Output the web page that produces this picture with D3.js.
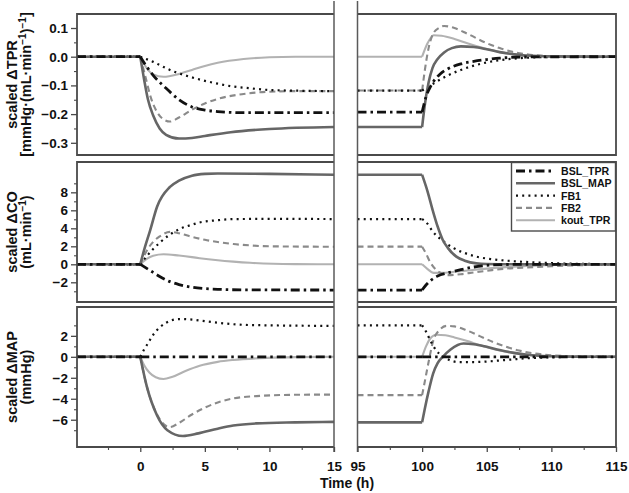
<!DOCTYPE html>
<html><head><meta charset="utf-8">
<script src="https://cdn.jsdelivr.net/npm/d3@7"></script>
<style>
body{margin:0;background:#fff}
svg{display:block}
text{font-family:"Liberation Sans",Arial,Helvetica,sans-serif;font-weight:bold;fill:#111}
</style>
</head><body>
<svg id="chart" width="629" height="493"></svg>
<script>
// ---------------- DATA ----------------
const seriesNames = ["BSL_TPR", "BSL_MAP", "FB1", "FB2", "kout_TPR"];
const xTicksLeft = [0, 5, 10, 15];
const xTicksRight = [95, 100, 105, 110, 115];
const xMinorLeft = [-2.5, 2.5, 7.5, 12.5];
const xMinorRight = [97.5, 102.5, 107.5, 112.5];
const yTicksTPR = [-0.3, -0.2, -0.1, 0.0, 0.1];
const yMinorTPR = [-0.25, -0.15, -0.05, 0.05];
const yTicksCO = [-2, 0, 2, 4, 6, 8];
const yMinorCO = [-3, -1, 1, 3, 5, 7, 9];
const yTicksMAP = [-6, -4, -2, 0, 2];
const yMinorMAP = [-7, -5, -3, -1, 1, 3];

// scaled ΔTPR
const tpr_BSL_TPR = [[-4.9,0],[0,0],[0.5,-0.035],[1,-0.065],[2,-0.11],[3,-0.15],[4,-0.175],[5,-0.186],[6,-0.191],[8,-0.195],[15,-0.195],[95,-0.193],[100,-0.193],[100.3,-0.14],[100.7,-0.1],[101.4,-0.06],[102,-0.042],[103,-0.025],[104,-0.016],[105,-0.01],[106,-0.005],[108,-0.001],[115,0]];
const tpr_BSL_MAP = [[-4.9,0],[0,0],[0.3,-0.08],[0.6,-0.15],[1,-0.205],[1.5,-0.25],[2,-0.272],[3,-0.285],[4,-0.283],[5,-0.276],[7,-0.263],[10,-0.252],[15,-0.245],[95,-0.245],[100,-0.245],[100.2,-0.17],[100.5,-0.09],[100.8,-0.04],[101.2,-0.008],[101.7,0.015],[102.3,0.03],[103,0.036],[104,0.034],[105,0.026],[106,0.016],[107,0.009],[108,0.004],[110,0.001],[115,0]];
const tpr_FB1 = [[-4.9,0],[0,0],[1,-0.018],[2,-0.04],[2.5,-0.05],[3,-0.058],[4,-0.072],[5,-0.084],[6,-0.094],[7.2,-0.104],[8.5,-0.11],[10,-0.116],[15,-0.12],[95,-0.118],[100,-0.118],[101,-0.09],[102,-0.065],[103,-0.046],[104,-0.031],[105,-0.02],[106,-0.012],[107,-0.007],[108,-0.004],[110,-0.001],[115,0]];
const tpr_FB2 = [[-4.9,0],[0,0],[0.4,-0.07],[0.8,-0.14],[1.2,-0.185],[1.7,-0.215],[2.3,-0.226],[3,-0.212],[4,-0.185],[5,-0.163],[6,-0.147],[8,-0.13],[10,-0.122],[12,-0.12],[15,-0.12],[95,-0.118],[100,-0.118],[100.2,-0.05],[100.5,0.03],[100.85,0.08],[101.3,0.1],[101.7,0.107],[102.5,0.1],[103.5,0.08],[105,0.047],[106,0.03],[107,0.017],[108,0.009],[110,0.002],[115,0]];
const tpr_kout_TPR = [[-4.9,0],[0,0],[0.5,-0.04],[1,-0.062],[1.8,-0.07],[3,-0.06],[4,-0.046],[5,-0.032],[6,-0.021],[8,-0.008],[10,-0.002],[12,0],[15,0],[95,0],[100,0],[100.4,0.045],[100.9,0.075],[101.5,0.073],[102.5,0.062],[103.5,0.047],[105,0.027],[106,0.016],[107,0.009],[108,0.004],[110,0.001],[115,0]];

// scaled ΔCO
const co_BSL_TPR = [[-4.9,0],[0,0],[0.5,-0.45],[1,-0.9],[1.5,-1.35],[2.3,-1.93],[3,-2.25],[4,-2.55],[5,-2.7],[6,-2.78],[8,-2.84],[15,-2.86],[95,-2.86],[100,-2.86],[100.3,-2.3],[100.7,-1.75],[101.2,-1.3],[102,-0.95],[103,-0.6],[104,-0.3],[105,-0.12],[106,-0.04],[108,0],[115,0]];
const co_BSL_MAP = [[-4.9,0],[0,0],[0.3,1.6],[0.77,3.8],[1.3,6.4],[2.3,8.6],[3,9.3],[4,9.85],[5,10.05],[6,10.1],[10,10.05],[15,9.95],[95,9.95],[100,9.95],[100.4,8.2],[100.85,5.85],[101.2,4.2],[101.6,2.7],[102,1.8],[102.65,0.85],[103.3,0.4],[104.2,0.1],[105,0.03],[107,0],[115,0]];
const co_FB1 = [[-4.9,0],[0,0],[0.5,0.9],[1,1.7],[1.5,2.4],[2.3,3.3],[3,3.9],[4,4.4],[4.6,4.65],[6,4.9],[7.2,5.02],[10,5.05],[15,5.03],[95,5.03],[100,5.03],[100.3,4.7],[100.85,3.6],[101.6,2.6],[102.5,1.75],[103.3,1.25],[104.2,0.85],[105.5,0.55],[107,0.35],[108.2,0.25],[110,0.13],[112,0.06],[115,0.02]];
const co_FB2 = [[-4.9,0],[0,0],[0.5,1.5],[1,2.5],[1.5,3.1],[2.3,3.6],[3,3.45],[4,3.05],[5,2.72],[6,2.47],[7.2,2.25],[8.5,2.1],[10,2.0],[15,1.95],[95,1.96],[100,1.96],[100.3,1.2],[100.6,0.3],[101,-0.5],[101.5,-1.0],[102,-1.2],[103,-1.1],[104,-0.9],[105.4,-0.65],[106.5,-0.48],[108,-0.35],[109.4,-0.26],[111,-0.15],[113,-0.07],[115,-0.03]];
const co_kout_TPR = [[-4.9,0],[0,0],[0.5,0.6],[1,0.95],[1.8,1.12],[3,0.97],[4,0.8],[4.6,0.68],[6,0.45],[7.2,0.3],[8.5,0.17],[10.3,0.06],[12,0.02],[15,0],[95,0],[100,0],[100.4,-0.5],[100.9,-0.95],[101.5,-0.95],[102.5,-0.83],[103.9,-0.63],[105,-0.48],[107,-0.27],[109,-0.12],[111,-0.05],[115,0]];

// scaled ΔMAP
const map_BSL_TPR = [[-4.9,0],[0,0],[15,0],[95,0],[100,0],[115,0]];
const map_BSL_MAP = [[-4.9,0],[0,0],[0.5,-2.8],[1.3,-5.6],[2.1,-7.0],[3.3,-7.55],[4.5,-7.3],[6,-6.85],[7.2,-6.55],[9,-6.35],[12,-6.25],[15,-6.2],[95,-6.25],[100,-6.25],[100.2,-5.0],[100.5,-3.3],[100.85,-1.6],[101.2,-0.6],[101.6,0],[102.2,0.7],[103.2,1.27],[104,1.2],[105,0.95],[106,0.65],[107,0.4],[108,0.22],[109,0.1],[110,0.05],[112,0.01],[115,0]];
const map_FB1 = [[-4.9,0],[0,0],[0.3,0.7],[0.6,1.3],[1,2.1],[1.5,2.8],[2,3.25],[3,3.6],[4,3.55],[5,3.4],[6,3.25],[8,3.05],[10,3.0],[15,2.95],[95,3.0],[100,3.0],[100.3,2.4],[100.7,1.4],[101.1,0.6],[101.6,0.05],[102.2,-0.35],[102.8,-0.5],[104,-0.5],[105,-0.45],[106,-0.35],[107,-0.25],[108,-0.15],[110,-0.05],[112,0],[115,0]];
const map_FB2 = [[-4.9,0],[0,0],[0.5,-2.8],[1.3,-5.5],[2.0,-6.6],[2.3,-6.7],[3,-6.3],[4,-5.5],[5,-4.85],[6,-4.35],[7.2,-3.97],[9,-3.75],[12,-3.62],[15,-3.6],[95,-3.65],[100,-3.65],[100.2,-2.4],[100.5,-0.5],[100.85,1.5],[101.3,2.5],[101.9,2.95],[102.5,2.9],[103.5,2.5],[104.5,1.95],[105.5,1.4],[106.5,0.95],[107.5,0.6],[108.5,0.35],[110,0.15],[112,0.04],[115,0]];
const map_kout_TPR = [[-4.9,0],[0,0],[0.3,-0.8],[0.7,-1.5],[1.2,-1.95],[1.8,-2.12],[2.5,-1.9],[3.5,-1.35],[4.6,-0.85],[6,-0.48],[7.2,-0.3],[9.8,-0.1],[12,-0.03],[15,0],[95,0],[100,0],[100.3,1.0],[100.6,1.7],[101.1,2.1],[101.8,2.05],[102.5,1.85],[103.5,1.5],[104.5,1.1],[105.5,0.75],[106.5,0.48],[107.5,0.28],[108.5,0.15],[110,0.05],[115,0]];

// ---------------- LAYOUT / STYLE ----------------
const svg = d3.select("#chart");
const xL = d3.scaleLinear().domain([-4.9, 15]).range([77, 334]);
const xR = d3.scaleLinear().domain([95, 115]).range([357.5, 616]);
const frameColor = "#4a4a4a";

const styles = {
  BSL_TPR:  {stroke:"#111", width:2.8, dash:"9,4,2.5,4"},
  BSL_MAP:  {stroke:"#666", width:2.6, dash:null},
  FB1:      {stroke:"#111", width:2.2, dash:"2,4.2"},
  FB2:      {stroke:"#8a8a8a", width:2.1, dash:"6,4"},
  kout_TPR: {stroke:"#b2b2b2", width:2.1, dash:null}
};
const drawOrder = ["kout_TPR", "FB2", "FB1", "BSL_MAP", "BSL_TPR"];

const panels = [
  {top:14, bottom:155, domain:[-0.3425, 0.1488], ticks:yTicksTPR, minor:yMinorTPR, fmt:d3.format(".1f"),
   label1:"scaled ΔTPR", label2:[["[mmHg·(mL·min",""],["−1","sup"],[")",""],["−1","sup"],["]",""]],
   data:{BSL_TPR:tpr_BSL_TPR, BSL_MAP:tpr_BSL_MAP, FB1:tpr_FB1, FB2:tpr_FB2, kout_TPR:tpr_kout_TPR}},
  {top:162, bottom:302, domain:[-4.19, 11.37], ticks:yTicksCO, minor:yMinorCO, fmt:d3.format("d"),
   label1:"scaled ΔCO", label2:[["(mL·min",""],["−1","sup"],[")",""]],
   data:{BSL_TPR:co_BSL_TPR, BSL_MAP:co_BSL_MAP, FB1:co_FB1, FB2:co_FB2, kout_TPR:co_kout_TPR}},
  {top:307, bottom:447, domain:[-8.6, 4.75], ticks:yTicksMAP, minor:yMinorMAP, fmt:d3.format("d"),
   label1:"scaled ΔMAP", label2:[["(mmHg)",""]],
   data:{BSL_TPR:map_BSL_TPR, BSL_MAP:map_BSL_MAP, FB1:map_FB1, FB2:map_FB2, kout_TPR:map_kout_TPR}}
];

const defs = svg.append("defs");

panels.forEach((p, i) => {
  const y = d3.scaleLinear().domain(p.domain).range([p.bottom, p.top]);
  defs.append("clipPath").attr("id", "cl" + i).append("rect")
    .attr("x", xL.range()[0]).attr("y", p.top).attr("width", xL.range()[1] - xL.range()[0]).attr("height", p.bottom - p.top);
  defs.append("clipPath").attr("id", "cr" + i).append("rect")
    .attr("x", xR.range()[0]).attr("y", p.top).attr("width", xR.range()[1] - xR.range()[0]).attr("height", p.bottom - p.top);

  const gL = svg.append("g").attr("clip-path", `url(#cl${i})`);
  const gR = svg.append("g").attr("clip-path", `url(#cr${i})`);

  drawOrder.forEach(name => {
    const d = p.data[name];
    const st = styles[name];
    const pieces = [
      {g:gL, x:xL, pts:d.filter(v => v[0] <= 0)},
      {g:gL, x:xL, pts:d.filter(v => v[0] >= 0 && v[0] <= 15)},
      {g:gR, x:xR, pts:d.filter(v => v[0] >= 95 && v[0] <= 100)},
      {g:gR, x:xR, pts:d.filter(v => v[0] >= 100)}
    ];
    pieces.forEach(pc => {
      if (pc.pts.length < 2) return;
      const line = d3.line().x(v => pc.x(v[0])).y(v => y(v[1])).curve(d3.curveMonotoneX);
      pc.g.append("path").attr("d", line(pc.pts))
        .attr("fill", "none").attr("stroke", st.stroke).attr("stroke-width", st.width)
        .attr("stroke-dasharray", st.dash).attr("stroke-linejoin", "round");
    });
  });

  const xl0 = xL.range()[0], xl1 = xL.range()[1], xr0 = xR.range()[0], xr1 = xR.range()[1];
  svg.append("path").attr("d", `M${xl1},${p.top}H${xl0}V${p.bottom}H${xl1}`)
    .attr("fill", "none").attr("stroke", frameColor).attr("stroke-width", 1.8);
  svg.append("path").attr("d", `M${xr0},${p.top}H${xr1}V${p.bottom}H${xr0}`)
    .attr("fill", "none").attr("stroke", frameColor).attr("stroke-width", 1.8);

  const ax = d3.axisLeft(y).tickValues(p.ticks).tickSize(6).tickPadding(3).tickFormat(p.fmt);
  const ga = svg.append("g").attr("transform", `translate(${xl0},0)`).call(ax);
  ga.select(".domain").remove();
  ga.selectAll(".tick line").attr("stroke", frameColor).attr("stroke-width", 1.3);
  ga.selectAll(".tick text").attr("font-size", 13.5).attr("font-weight", "bold")
    .attr("font-family", '"Liberation Sans",Arial,sans-serif').attr("fill", "#111");
  const am = d3.axisLeft(y).tickValues(p.minor).tickSize(3).tickFormat("");
  const gm = svg.append("g").attr("transform", `translate(${xl0},0)`).call(am);
  gm.select(".domain").remove();
  gm.selectAll(".tick line").attr("stroke", frameColor).attr("stroke-width", 1.1);

  const cy = (p.top + p.bottom) / 2;
  svg.append("text").attr("transform", `translate(17,${cy}) rotate(-90)`)
    .attr("text-anchor", "middle").attr("font-size", 14.5).text(p.label1);
  const t2 = svg.append("text").attr("transform", `translate(31,${cy}) rotate(-90)`)
    .attr("text-anchor", "middle").attr("font-size", 14.5);
  p.label2.forEach(([s, kind]) => {
    const ts = t2.append("tspan").text(s);
    if (kind === "sup") ts.attr("font-size", 10).attr("baseline-shift", "super");
  });
});

[xL.range()[1], xR.range()[0]].forEach(xx => {
  svg.append("line").attr("x1", xx).attr("x2", xx).attr("y1", 1).attr("y2", 452)
    .attr("stroke", "#5a5a5a").attr("stroke-width", 1.5);
});

const bottomY = panels[2].bottom;
[[xL, xTicksLeft, xMinorLeft], [xR, xTicksRight, xMinorRight]].forEach(([sc, tv, mv]) => {
  const g = svg.append("g").attr("transform", `translate(0,${bottomY})`)
    .call(d3.axisBottom(sc).tickValues(tv).tickSize(5).tickPadding(9).tickFormat(d3.format("d")));
  g.select(".domain").remove();
  g.selectAll(".tick line").attr("stroke", frameColor).attr("stroke-width", 1.3);
  g.selectAll(".tick text").attr("font-size", 13.5).attr("font-weight", "bold")
    .attr("font-family", '"Liberation Sans",Arial,sans-serif').attr("fill", "#111");
  const gm = svg.append("g").attr("transform", `translate(0,${bottomY})`)
    .call(d3.axisBottom(sc).tickValues(mv).tickSize(3).tickFormat(""));
  gm.select(".domain").remove();
  gm.selectAll(".tick line").attr("stroke", frameColor).attr("stroke-width", 1.1);
});

svg.append("text").attr("x", 347).attr("y", 488).attr("text-anchor", "middle")
  .attr("font-size", 14).text("Time (h)");

const lg = svg.append("g");
lg.append("rect").attr("x", 511.5).attr("y", 162.5).attr("width", 104).attr("height", 68.5)
  .attr("fill", "#fff").attr("stroke", frameColor).attr("stroke-width", 1.4);
seriesNames.forEach((name, k) => {
  const yy = 171 + k * 12.3;
  const st = styles[name];
  lg.append("line").attr("x1", 516).attr("x2", 555).attr("y1", yy).attr("y2", yy)
    .attr("stroke", st.stroke).attr("stroke-width", st.width).attr("stroke-dasharray", st.dash);
  lg.append("text").attr("x", 561).attr("y", yy + 4).attr("font-size", 10.6).text(name);
});
</script>
</body></html>
